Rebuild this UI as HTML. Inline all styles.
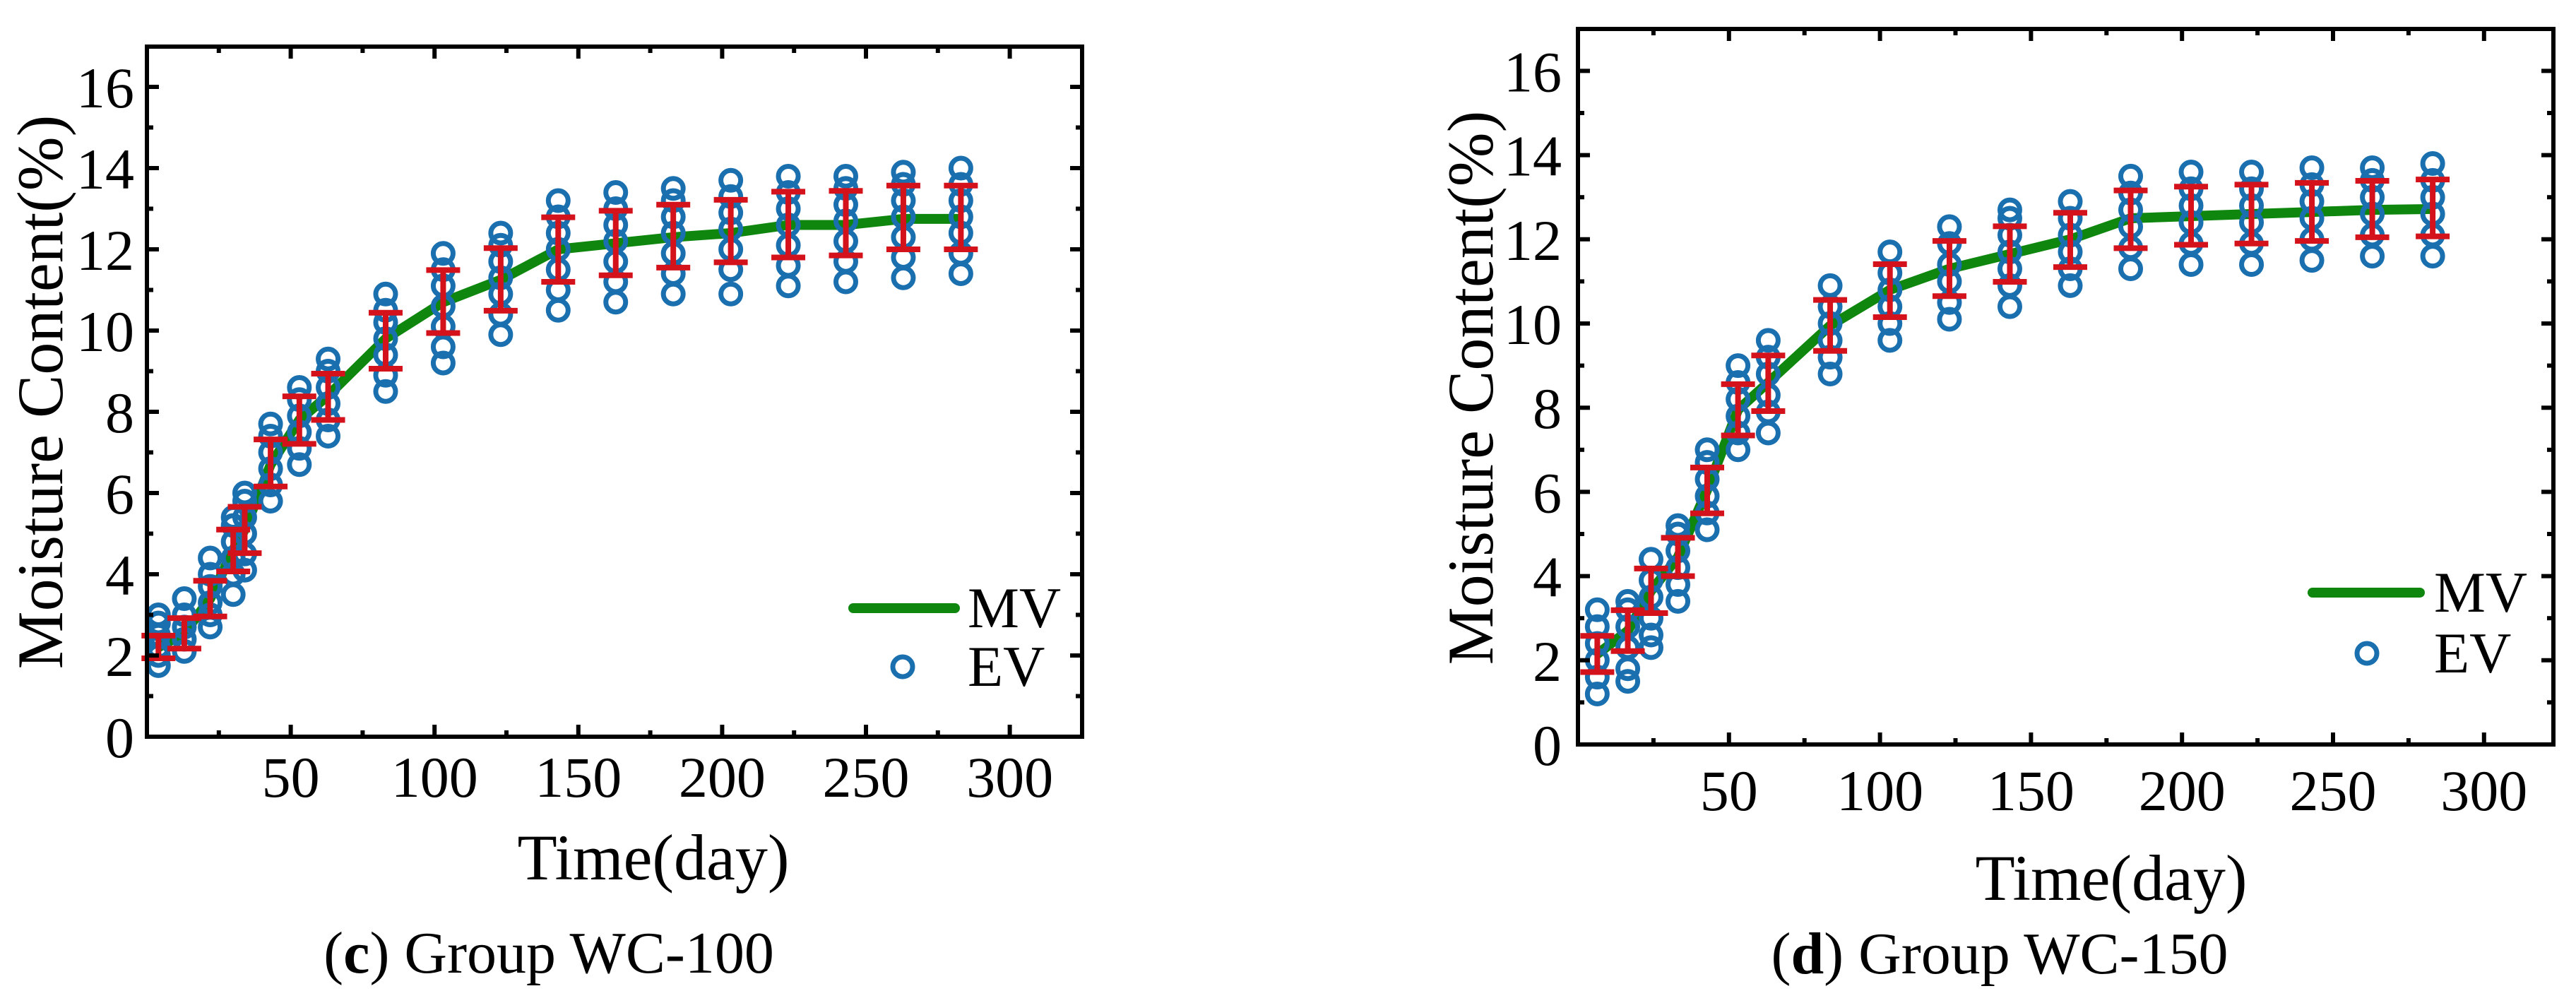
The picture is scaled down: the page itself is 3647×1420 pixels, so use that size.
<!DOCTYPE html>
<html><head><meta charset="utf-8">
<style>
html,body{margin:0;padding:0;background:#fff;}
svg{display:block;}
text{font-family:"Liberation Serif",serif;fill:#000;}
</style></head>
<body>
<svg id="chart" width="3647" height="1420" viewBox="0 0 3647 1420" xmlns="http://www.w3.org/2000/svg"></svg>
<script>
// ---------- Panel (c) WC-100 data ----------
const cDays = [4, 13, 22, 30, 34, 43, 53, 63, 83, 103, 123, 143, 163, 183, 203, 223, 243, 263, 283];
const cMV = [2.2, 2.55, 3.4, 4.6, 5.1, 6.7, 7.8, 8.4, 9.8, 10.7, 11.25, 12.0, 12.15, 12.3, 12.4, 12.6, 12.6, 12.75, 12.75];
const cErrHi = [2.49, 2.92, 3.84, 5.1, 5.66, 7.32, 8.38, 8.94, 10.44, 11.49, 12.03, 12.79, 12.95, 13.1, 13.22, 13.42, 13.44, 13.57, 13.57];
const cErrLo = [1.93, 2.17, 2.96, 4.07, 4.52, 6.16, 7.21, 7.8, 9.06, 9.94, 10.49, 11.2, 11.36, 11.55, 11.68, 11.8, 11.85, 12.0, 12.0];
const cEV = [
 [1.75,2.0,2.2,2.5,2.8,3.0],[2.1,2.4,2.7,3.0,3.4],[2.7,3.0,3.3,3.7,4.0,4.4],[3.5,4.0,4.4,4.8,5.2,5.4],
 [4.1,4.5,5.0,5.4,5.8,6.0],[5.8,6.2,6.6,7.0,7.4,7.7],[6.7,7.1,7.5,7.9,8.3,8.6],[7.4,7.8,8.2,8.6,9.0,9.3],
 [8.5,8.9,9.4,9.8,10.2,10.5,10.9],[9.2,9.6,10.1,10.6,11.1,11.5,11.9],[9.9,10.4,10.9,11.3,11.7,12.1,12.4],
 [10.5,11.0,11.5,12.0,12.4,12.8,13.2],[10.7,11.2,11.7,12.2,12.6,13.0,13.4],[10.9,11.4,11.9,12.4,12.8,13.2,13.5],
 [10.9,11.5,12.0,12.5,12.9,13.3,13.7],[11.1,11.6,12.1,12.6,13.0,13.4,13.8],[11.2,11.7,12.2,12.7,13.1,13.5,13.8],
 [11.3,11.8,12.3,12.8,13.2,13.6,13.9],[11.4,11.9,12.4,12.8,13.2,13.6,14.0]];
// ---------- Panel (d) WC-150 data ----------
const dDays = [6.4, 16.5, 24.2, 33.1, 42.8, 53, 63, 83.5, 103.3, 123, 143, 163, 183, 203, 223, 243, 263, 283];
const dMV = [2.15, 2.7, 3.65, 4.45, 6.05, 7.95, 8.6, 9.95, 10.8, 11.3, 11.65, 12.0, 12.5, 12.55, 12.6, 12.65, 12.7, 12.72];
const dErrHi = [2.58, 3.19, 4.18, 4.91, 6.58, 8.56, 9.24, 10.56, 11.41, 11.96, 12.31, 12.63, 13.16, 13.25, 13.3, 13.34, 13.39, 13.42];
const dErrLo = [1.72, 2.22, 3.12, 4.0, 5.49, 7.34, 7.92, 9.35, 10.15, 10.65, 10.99, 11.34, 11.79, 11.87, 11.9, 11.96, 12.05, 12.07];
const dEV = [
 [1.2,1.6,2.0,2.4,2.8,3.2],[1.5,1.8,2.3,2.8,3.2,3.4],[2.3,2.6,3.0,3.5,3.9,4.4],[3.4,3.8,4.2,4.6,5.0,5.2],
 [5.1,5.5,5.9,6.3,6.7,7.0],[7.0,7.4,7.8,8.2,8.6,9.0],[7.4,7.9,8.3,8.8,9.2,9.6],[8.8,9.2,9.6,10.0,10.4,10.9],
 [9.6,10.0,10.4,10.8,11.2,11.7],[10.1,10.5,11.0,11.4,11.9,12.3],[10.4,10.9,11.3,11.7,12.1,12.5,12.7],
 [10.9,11.3,11.7,12.1,12.5,12.9],[11.3,11.8,12.3,12.7,13.1,13.5],[11.4,11.9,12.4,12.8,13.2,13.6],
 [11.4,11.9,12.4,12.8,13.2,13.6],[11.5,12.0,12.5,12.9,13.3,13.7],[11.6,12.1,12.6,13.0,13.4,13.7],[11.6,12.1,12.6,13.0,13.4,13.8]];
const xTickLabels = [50, 100, 150, 200, 250, 300];
const yTickLabels = [0, 2, 4, 6, 8, 10, 12, 14, 16];

const NS = "http://www.w3.org/2000/svg";
const svg = document.getElementById('chart');
function mk(tag, attrs, parent) {
  const e = document.createElementNS(NS, tag);
  for (const k in attrs) e.setAttribute(k, attrs[k]);
  (parent || svg).appendChild(e);
  return e;
}

function panel(cfg) {
  const g = mk('g', {});
  
  
  const X = v => cfg.x0 + v * cfg.px;
  const Y = v => cfg.y0 - v * cfg.py;
  const L = cfg.x0, R = cfg.xR, T = cfg.yT, B = cfg.y0;

  let d = '';
  cfg.days.forEach((t, i) => { d += (i ? 'L' : 'M') + X(t).toFixed(1) + ',' + Y(cfg.mv[i]).toFixed(1); });
  const line = mk('path', {d: d, fill: 'none', stroke: '#0f870f', 'stroke-width': 14, 'stroke-linejoin': 'round'}, g);
  
  

  cfg.ev.forEach((vals, i) => {
    vals.forEach(v => {
      const c = mk('circle', {cx: X(cfg.days[i]), cy: Y(v), r: 14, fill: 'none', stroke: '#1a6faf', 'stroke-width': 7}, g);
      
      
    });
  });

  cfg.days.forEach((t, i) => {
    const eg = mk('g', {stroke: '#d4121c', 'stroke-width': 8}, g);
    
    
    const x = X(t), yh = Y(cfg.hi[i]), yl = Y(cfg.lo[i]);
    mk('line', {x1: x, x2: x, y1: yh, y2: yl}, eg);
    mk('line', {x1: x - 24, x2: x + 24, y1: yh, y2: yh}, eg);
    mk('line', {x1: x - 24, x2: x + 24, y1: yl, y2: yl}, eg);
  });

  const fr = mk('rect', {x: L, y: T, width: R - L, height: B - T, fill: 'none', stroke: '#000', 'stroke-width': 6}, g);
  
  

  const tk = mk('g', {stroke: '#000', 'stroke-width': 6}, g);
  
  
  for (let v = 25; X(v) < R - 2; v += 25) {
    const len = v % 50 === 0 ? 17 : 9, x = X(v);
    mk('line', {x1: x, x2: x, y1: B, y2: B - len}, tk);
    mk('line', {x1: x, x2: x, y1: T, y2: T + len}, tk);
  }
  for (let v = 1; Y(v) > T + 2; v += 1) {
    const len = v % 2 === 0 ? 17 : 9, y = Y(v);
    mk('line', {x1: L, x2: L + len, y1: y, y2: y}, tk);
    mk('line', {x1: R, x2: R - len, y1: y, y2: y}, tk);
  }
  xTickLabels.forEach(v => {
    const t = mk('text', {x: X(v), y: cfg.xLabBase, 'font-size': 82, 'text-anchor': 'middle'}, g);
    t.textContent = v;
    
    
  });
  yTickLabels.forEach(v => {
    const t = mk('text', {x: cfg.yLabRight, y: Y(v) + 29, 'font-size': 82, 'text-anchor': 'end'}, g);
    t.textContent = v;
    
    
  });
  const xt = mk('text', {x: cfg.xTitleX, y: cfg.xTitleY, 'font-size': 92, 'text-anchor': 'middle'}, g);
  xt.textContent = 'Time(day)';
  
  
  const yt = mk('text', {x: 0, y: 0, 'font-size': 92, 'text-anchor': 'middle', transform: 'translate(' + cfg.yTitleX + ',' + cfg.yTitleY + ') rotate(-90)'}, g);
  yt.textContent = 'Moisture Content(%)';
  
  

  const lg = mk('g', {}, g);
  
  
  mk('line', {x1: cfg.leg.lx1, x2: cfg.leg.lx2, y1: cfg.leg.ly, y2: cfg.leg.ly, stroke: '#0f870f', 'stroke-width': 14, 'stroke-linecap': 'round'}, lg);
  const mt = mk('text', {x: cfg.leg.tx, y: cfg.leg.ly + 27, 'font-size': 82}, lg);
  mt.textContent = 'MV';
  mk('circle', {cx: cfg.leg.cx, cy: cfg.leg.cy, r: 14, fill: 'none', stroke: '#1a6faf', 'stroke-width': 7}, lg);
  const et = mk('text', {x: cfg.leg.tx, y: cfg.leg.cy + 27, 'font-size': 82}, lg);
  et.textContent = 'EV';

  const cap = mk('text', {x: cfg.capX, y: cfg.capY, 'font-size': 84, 'text-anchor': 'middle'}, g);
  
  
  cap.innerHTML = '(<tspan font-weight="bold">' + cfg.letter + '</tspan>) ' + cfg.caption;
}

panel({name: 'panel-c-wc100', x0: 208, xR: 1532, px: 4.072, y0: 1043, yT: 66, py: 57.5,
  days: cDays, mv: cMV, hi: cErrHi, lo: cErrLo, ev: cEV,
  xLabBase: 1128, yLabRight: 190, xTitleX: 925, xTitleY: 1245, yTitleX: 88, yTitleY: 555,
  leg: {lx1: 1208, lx2: 1352, ly: 861, tx: 1370, cx: 1278, cy: 944},
  capX: 777, capY: 1377, letter: 'c', caption: 'Group WC-100'});
panel({name: 'panel-d-wc150', x0: 2234, xR: 3615, px: 4.276, y0: 1054, yT: 41, py: 59.6,
  days: dDays, mv: dMV, hi: dErrHi, lo: dErrLo, ev: dEV,
  xLabBase: 1147, yLabRight: 2211, xTitleX: 2989, xTitleY: 1274, yTitleX: 2113, yTitleY: 549,
  leg: {lx1: 3274, lx2: 3426, ly: 839, tx: 3446, cx: 3351, cy: 925},
  capX: 2831, capY: 1378, letter: 'd', caption: 'Group WC-150'});
</script>
</body></html>
